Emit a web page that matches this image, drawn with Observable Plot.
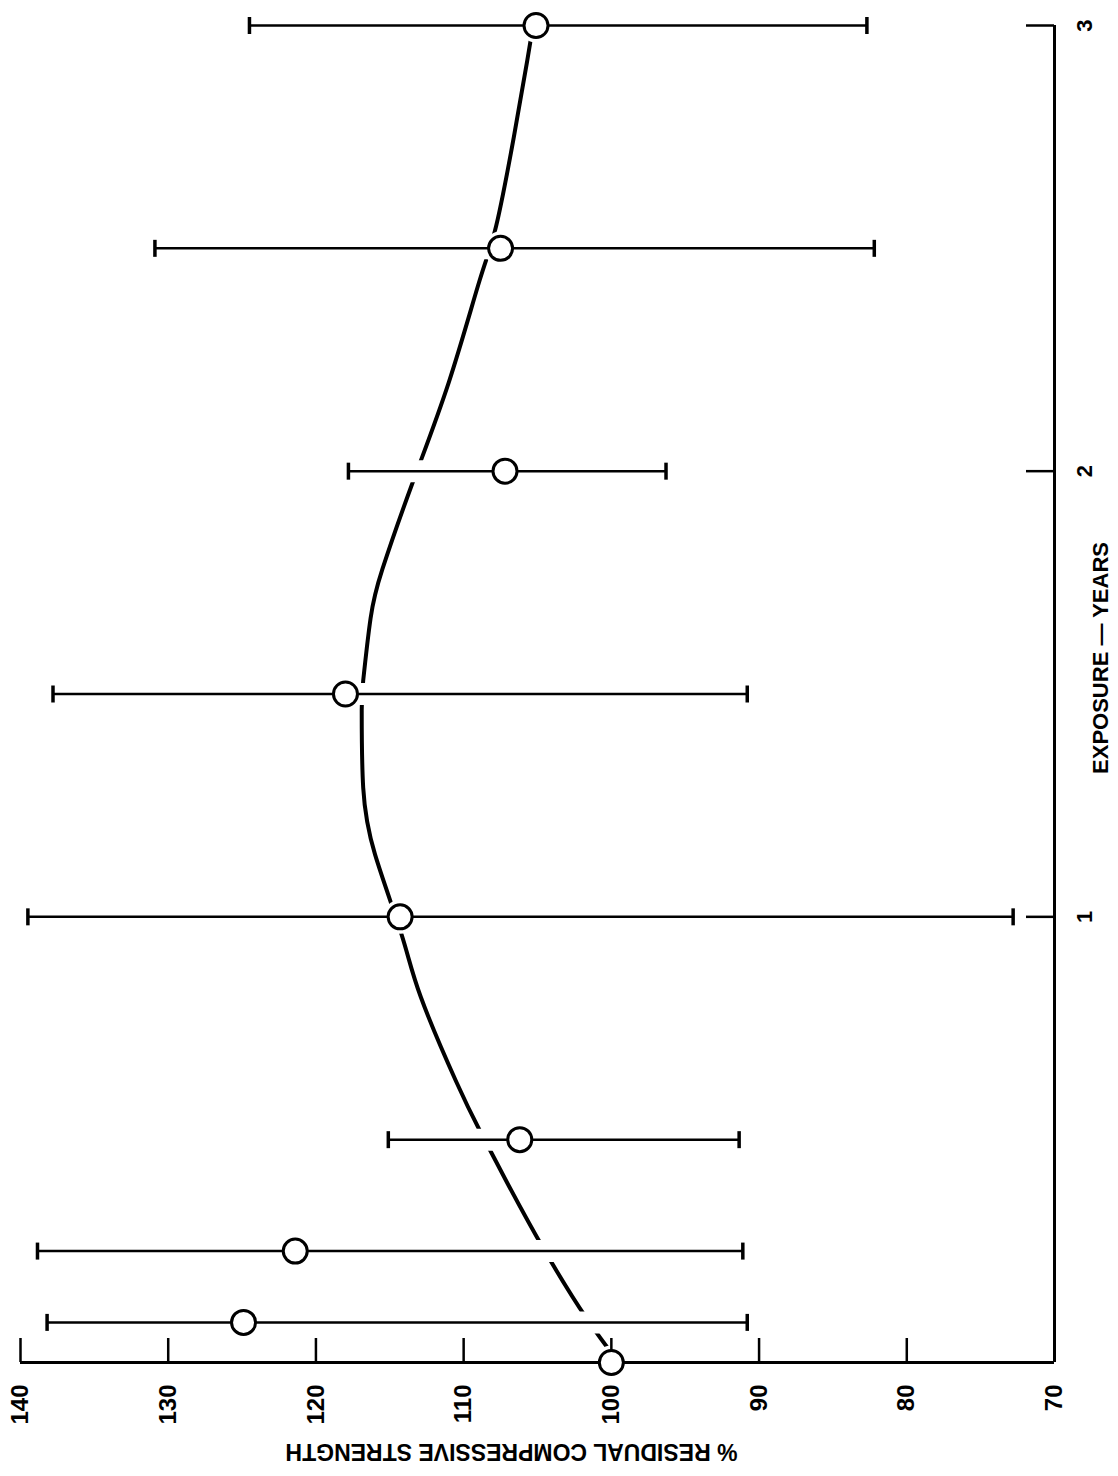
<!DOCTYPE html>
<html>
<head>
<meta charset="utf-8">
<script src="https://cdn.jsdelivr.net/npm/d3@7"></script>
<script src="https://cdn.jsdelivr.net/npm/@observablehq/plot@0.6"></script>
<style>
  html, body { margin: 0; padding: 0; background: white; }
  #chart svg { display: block; }
</style>
</head>
<body>
<div id="chart"></div>
<script>
// ---- data ----
const years    = [0, 0.09, 0.25, 0.5, 1.0, 1.5, 2.0, 2.5, 3.0];
const strength = [100, 124.9, 121.4, 106.2, 114.3, 118.0, 107.2, 107.5, 105.1];
const errLow   = [null, 90.8, 91.1, 91.35, 72.8, 90.8, 96.3, 82.2, 82.7];
const errHigh  = [null, 138.2, 138.85, 115.1, 139.5, 137.8, 117.8, 130.9, 124.5];

// fitted trend curve (years, % strength)
const curveYears    = [0, 0.1, 0.25, 0.4, 0.52, 0.63, 0.82, 0.96, 1.14, 1.29, 1.46, 1.53, 1.67, 1.78, 1.97, 2.2, 2.43, 2.55, 2.75, 2.92, 3.0];
const curveStrength = [99.5, 101.7, 104.5, 107.0, 108.9, 110.5, 112.9, 114.2, 116.0, 116.8, 116.9, 116.8, 116.3, 115.5, 113.5, 111.0, 108.9, 107.8, 106.6, 105.7, 105.3];

const strengthTicks = [140, 130, 120, 110, 100, 90, 80, 70];
const yearTicks = [1, 2, 3];
const strengthTitle = "% RESIDUAL COMPRESSIVE STRENGTH";
const yearTitle = "EXPOSURE — YEARS";

// ---- tables built from the arrays ----
const points = years.map((yr, i) => ({yr, s: strength[i]}));
const bars = years.map((yr, i) => ({yr, lo: errLow[i], hi: errHigh[i]})).filter(d => d.lo != null);
const curve = curveYears.map((yr, i) => ({yr, s: curveStrength[i]}));

const capSymbol = {
  draw(context, size) {
    const r = Math.sqrt(size / Math.PI);
    context.moveTo(0, -r);
    context.lineTo(0, r);
  }
};

const W = 1118, H = 1476;
const mL = 20, mR = 64, mT = 25, mB = 114;
const innerW = W - mL - mR, innerH = H - mT - mB;
const font = "'Liberation Sans', Arial, Helvetica, sans-serif";

const chart = Plot.plot({
  width: W,
  height: H,
  marginLeft: mL,
  marginRight: mR,
  marginTop: mT,
  marginBottom: mB,
  x: {domain: [140, 70], axis: null},
  y: {domain: [0, 3], axis: null},
  style: {background: "white", color: "black", fontFamily: font},
  marks: [
    // trend curve
    Plot.line(curve, {x: "s", y: "yr", curve: "natural", stroke: "black", strokeWidth: 4}),
    // white breaks where the curve meets bars and circles
    Plot.ruleY(bars, {x1: "lo", x2: "hi", y: "yr", stroke: "white", strokeWidth: 22}),
    Plot.dot(points, {x: "s", y: "yr", r: 17, fill: "white", stroke: "none"}),
    // axes
    Plot.ruleY([0], {stroke: "black", strokeWidth: 3}),
    Plot.ruleX([70], {stroke: "black", strokeWidth: 3}),
    Plot.tickX(strengthTicks, {x: d => d, insetTop: innerH - 24, stroke: "black", strokeWidth: 2.5}),
    Plot.tickY(yearTicks, {y: d => d, insetLeft: innerW - 28, stroke: "black", strokeWidth: 2.5}),
    Plot.text(strengthTicks, {x: d => d, text: d => String(d), frameAnchor: "bottom", dy: 22, rotate: -90, textAnchor: "end", lineAnchor: "middle", fontSize: 24, fontWeight: "bold", fill: "black"}),
    Plot.text(yearTicks, {y: d => d, text: d => String(d), frameAnchor: "right", dx: 30, rotate: -90, textAnchor: "middle", lineAnchor: "middle", fontSize: 22, fontWeight: "bold", fill: "black"}),
    Plot.text([strengthTitle], {text: d => d, frameAnchor: "bottom", dx: -26, dy: 89, rotate: 180, textAnchor: "middle", lineAnchor: "middle", fontSize: 23, fontWeight: "bold", fill: "black"}),
    Plot.text([yearTitle], {text: d => d, frameAnchor: "right", dx: 46, dy: -36, rotate: -90, textAnchor: "middle", lineAnchor: "middle", fontSize: 22, fontWeight: "bold", fill: "black"}),
    // error bars
    Plot.ruleY(bars, {x1: "lo", x2: "hi", y: "yr", stroke: "black", strokeWidth: 2.5}),
    Plot.dot(bars, {x: "lo", y: "yr", symbol: capSymbol, r: 8.5, stroke: "black", strokeWidth: 3.5}),
    Plot.dot(bars, {x: "hi", y: "yr", symbol: capSymbol, r: 8.5, stroke: "black", strokeWidth: 3.5}),
    // data points
    Plot.dot(points, {x: "s", y: "yr", r: 12, fill: "white", stroke: "black", strokeWidth: 3})
  ]
});

document.getElementById("chart").append(chart);
</script>
</body>
</html>
